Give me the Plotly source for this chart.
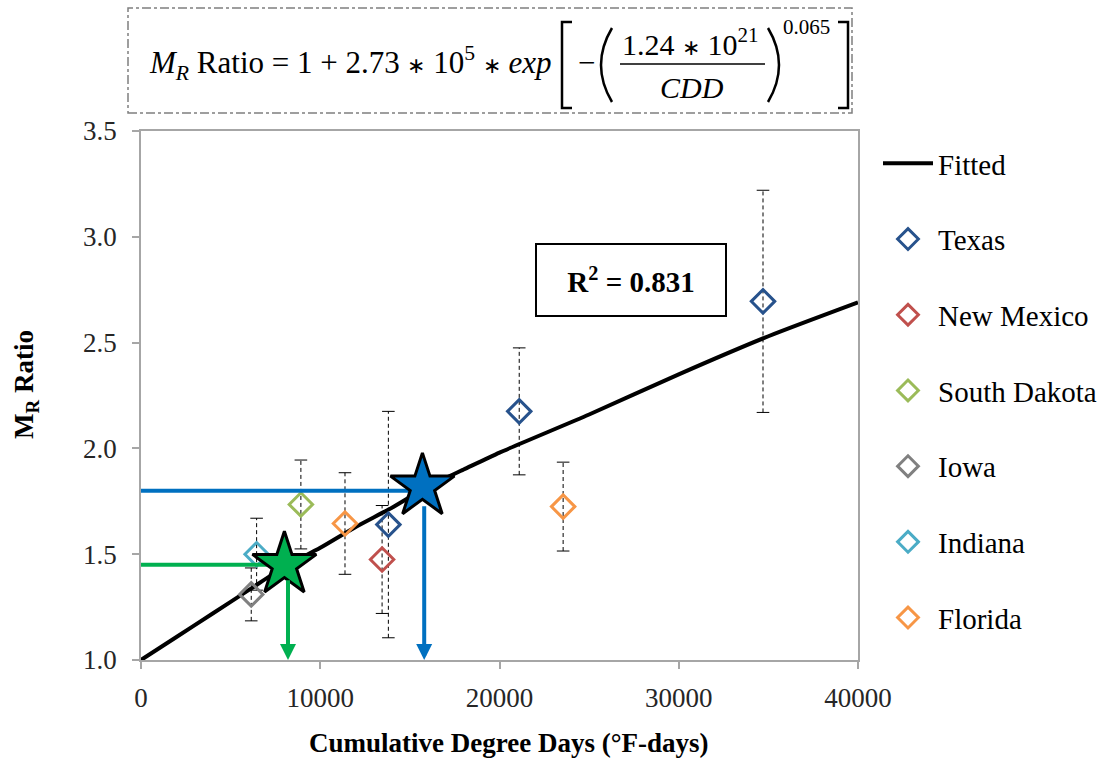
import plotly.graph_objects as go

# ---- data -------------------------------------------------------------
states = ["Texas", "New Mexico", "South Dakota", "Iowa", "Indiana", "Florida"]
state_colors = ["#27528c", "#c0504d", "#9bbb59", "#808080", "#4bacc6", "#f79646"]
state_cdd = [
    [13800, 21100, 34700],
    [13450],
    [8920],
    [6150],
    [6450],
    [11380, 23550],
]
state_ratio = [
    [1.64, 2.175, 2.695],
    [1.475],
    [1.735],
    [1.31],
    [1.50],
    [1.645, 1.725],
]
state_err = [
    [0.535, 0.30, 0.525],
    [0.255],
    [0.21],
    [0.125],
    [0.17],
    [0.24, 0.21],
]

# fitted curve, sampled along CDD
fit_cdd = [0, 2000, 4000, 6000, 8000, 10000, 12000, 14000, 16000, 18000,
           20000, 25000, 30000, 35000, 40000]
fit_ratio = [1.00, 1.11, 1.22, 1.33, 1.44, 1.53, 1.63, 1.72, 1.82, 1.90,
             1.98, 2.16, 2.35, 2.53, 2.69]

# highlighted readings (star) and their guide lines
star_cdd = [8000, 15700]
star_ratio = [1.45, 1.82]
star_colors = ["#00b050", "#0070c0"]
guide_cdd = [8200, 15800]
guide_ratio = [1.45, 1.80]

x_ticks = [0, 10000, 20000, 30000, 40000]
y_ticks = [1.0, 1.5, 2.0, 2.5, 3.0, 3.5]

# ---- figure geometry --------------------------------------------------
W, H = 1105, 764
L, R, T, B = 141, 858, 131, 660
SERIF = "Liberation Serif, Times New Roman, serif"


def px(x):
    return (x - L) / (R - L)


def py(y):
    return (B - y) / (B - T)


def paper_text(x, y, text, font, **kw):
    opts = dict(xanchor="center", yanchor="middle")
    opts.update(kw)
    fig.add_annotation(x=px(x), y=py(y), xref="paper", yref="paper",
                       showarrow=False, text=text, font=font, **opts)


fig = go.Figure()

# error bars (dashed, with caps)
for cdd, ratio, err in zip(state_cdd, state_ratio, state_err):
    xs, ys, cx, cy = [], [], [], []
    for x, y, e in zip(cdd, ratio, err):
        xs += [x, x, None]
        ys += [y - e, y + e, None]
        cx += [x, x]
        cy += [y - e, y + e]
    fig.add_trace(go.Scatter(x=xs, y=ys, mode="lines", showlegend=False,
                             hoverinfo="skip",
                             line=dict(color="#000000", width=1, dash="4px,3px")))
    fig.add_trace(go.Scatter(x=cx, y=cy, mode="markers", showlegend=False,
                             hoverinfo="skip",
                             marker=dict(symbol="line-ew", size=9,
                                         line=dict(color="#000000", width=1))))

# fitted curve
fig.add_trace(go.Scatter(x=fit_cdd, y=fit_ratio, mode="lines", name="Fitted",
                         legendgroup="fit", legendrank=1,
                         line=dict(color="#000000", width=4, shape="spline",
                                   smoothing=0.6)))

# state observations
for i, (name, color, cdd, ratio) in enumerate(zip(states, state_colors,
                                                   state_cdd, state_ratio)):
    fig.add_trace(go.Scatter(x=cdd, y=ratio, mode="markers", name=name,
                             legendgroup=name, legendrank=2 + i,
                             marker=dict(symbol="diamond-open", size=18,
                                         color=color,
                                         line=dict(color=color, width=3))))

# horizontal guides from the axis to each star
for cx, gy, color in zip(star_cdd, guide_ratio, star_colors):
    fig.add_trace(go.Scatter(x=[0, cx], y=[gy, gy], mode="lines",
                             showlegend=False, hoverinfo="skip",
                             line=dict(color=color, width=4)))

# vertical arrows down to the CDD axis
for gx, gy, color in zip(guide_cdd, guide_ratio, star_colors):
    fig.add_annotation(x=gx, y=y_ticks[0], ax=gx, ay=gy, xref="x", yref="y",
                       axref="x", ayref="y", text="", showarrow=True,
                       arrowhead=2, arrowsize=0.8, arrowwidth=4,
                       arrowcolor=color, startstandoff=14)

# stars
for sx, sy, color in zip(star_cdd, star_ratio, star_colors):
    fig.add_trace(go.Scatter(x=[sx], y=[sy], mode="markers", showlegend=False,
                             hoverinfo="skip",
                             marker=dict(symbol="star", size=48, color=color,
                                         line=dict(color="#000000", width=3))))

# R^2 box
fig.add_annotation(x=27330, y=2.795, xref="x", yref="y", showarrow=False,
                   xanchor="center", yanchor="middle",
                   text="<b>R<sup>2</sup> = 0.831</b>",
                   font=dict(family=SERIF, size=29, color="#000000"),
                   width=188, height=70, borderpad=0,
                   bordercolor="#000000", borderwidth=2, bgcolor="#ffffff")

# axis titles
title_font = dict(family=SERIF, size=27, color="#000000")
paper_text(509, 743, "<b>Cumulative Degree Days (°F-days)</b>", title_font)
paper_text(26, 385, "<b>M<sub>R</sub> Ratio</b>", title_font, textangle=-90)

# equation box
eq_font = dict(family=SERIF, size=31, color="#000000")
star_op = "<span style='font-size:22px'>∗</span>"
fig.add_shape(type="rect", xref="paper", yref="paper",
              x0=px(128), x1=px(852), y0=py(113), y1=py(8),
              line=dict(color="#7f7f7f", width=1.5, dash="dashdot"))
paper_text(147, 63,
           f"<i>M</i><sub><i>R</i></sub> Ratio = 1 + 2.73 {star_op} 10<sup>5</sup> {star_op} <i>exp</i>",
           eq_font, xanchor="left")
paper_text(690, 42, f"1.24 {star_op} 10<sup>21</sup>",
           dict(family=SERIF, size=30, color="#000000"))
paper_text(692, 87, "<i>CDD</i>", dict(family=SERIF, size=30, color="#000000"))
paper_text(806, 27, "0.065", dict(family=SERIF, size=21, color="#000000"))
paper_text(586, 62, "−", eq_font)


def path(points):
    return "M " + " L ".join(f"{px(x)},{py(y)}" for x, y in points)


bracket_style = dict(color="#000000", width=2.5)
fig.add_shape(type="path", xref="paper", yref="paper", line=bracket_style,
              path=path([(572, 22), (562, 22), (562, 108), (572, 108)]))
fig.add_shape(type="path", xref="paper", yref="paper", line=bracket_style,
              path=path([(838, 22), (848, 22), (848, 108), (838, 108)]))
fig.add_shape(type="path", xref="paper", yref="paper", line=bracket_style,
              path=f"M {px(612)},{py(28)} Q {px(590)},{py(65)} {px(612)},{py(102)}")
fig.add_shape(type="path", xref="paper", yref="paper", line=bracket_style,
              path=f"M {px(768)},{py(28)} Q {px(790)},{py(65)} {px(768)},{py(102)}")
fig.add_shape(type="line", xref="paper", yref="paper",
              x0=px(620), x1=px(765), y0=py(64), y1=py(64),
              line=dict(color="#000000", width=1.5))

axis_common = dict(showline=True, linecolor="#a6a6a6", linewidth=1.5,
                   mirror=True, ticks="outside", ticklen=7,
                   tickcolor="#a6a6a6", tickwidth=1.5, showgrid=False,
                   zeroline=False,
                   tickfont=dict(family=SERIF, size=27, color="#262626"))

fig.update_layout(
    width=W, height=H,
    margin=dict(l=L, r=W - R, t=T, b=H - B, autoexpand=False),
    paper_bgcolor="#ffffff", plot_bgcolor="#ffffff",
    xaxis=dict(range=[0, 40000], tickvals=x_ticks, tickformat="d",
               ticklabelstandoff=6, **axis_common),
    yaxis=dict(range=[1.0, 3.5], tickvals=y_ticks, tickformat=".1f",
               ticklabelstandoff=10, **axis_common),
    legend=dict(x=px(878), y=py(138), xanchor="left", yanchor="top",
                font=dict(family=SERIF, size=29, color="#000000"),
                tracegroupgap=35, itemwidth=50, bgcolor="rgba(0,0,0,0)"),
    showlegend=True,
)

fig.write_html("out.html")
